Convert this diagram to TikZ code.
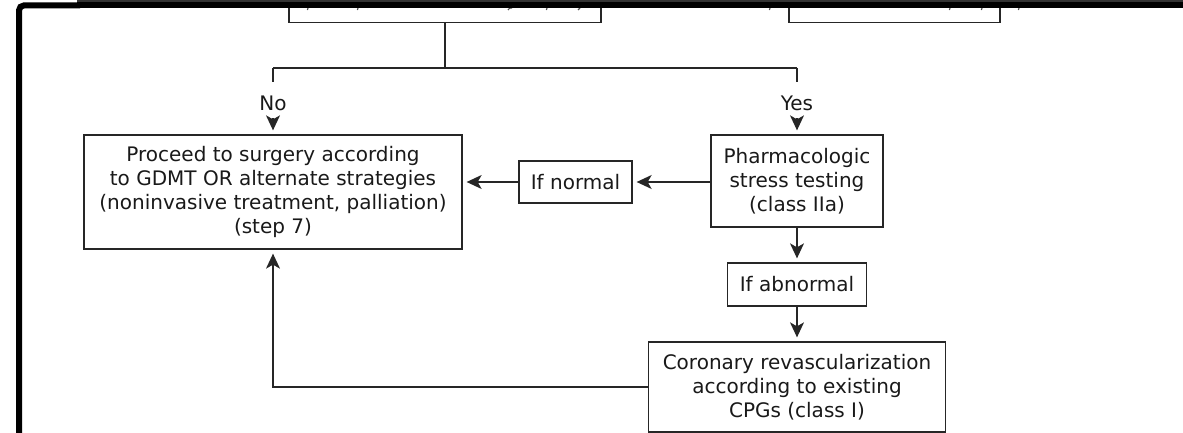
\documentclass[tikz,border=0pt]{standalone}
\usepackage{fontspec}
\setmainfont{DejaVu Sans}
\usetikzlibrary{arrows.meta}
\begin{document}
\begin{tikzpicture}[x=1pt,y=-1pt,
  box/.style={draw=black!85, line width=1.3pt, align=center, inner sep=0pt,
    font=\fontsize{20}{24}\selectfont, text=black!90},
  lbl/.style={inner sep=0pt, minimum height=30pt,
    font=\fontsize{20}{24}\selectfont, text=black!90},
  link/.style={draw=black!85, line width=1.3pt},
  arr/.style={link, -{Stealth[length=15pt,width=14pt,inset=4pt]}, shorten >=4pt}]
\useasboundingbox (0,0) rectangle (1183,433);

% boxes of the previous step, cut by the window edge
\node[box, minimum width=312pt, minimum height=64pt] (topL) at (445,-9.3) {};
\node[box, minimum width=211pt, minimum height=64pt] (topR) at (894.5,-9.3) {};
% descenders of the cut-off lines of text
\foreach \x in {308,358,547,770,950,982,1019}
  \draw[black!70, line width=1.1pt] (\x,8) -- (\x-0.6,10);
\draw[black!70, line width=1.1pt] (512,8) to[bend right=40] (508,10);
\draw[black!70, line width=1.1pt] (580,8) to[bend left=40] (578,10);

% decision split
\coordinate (j)  at (445,68);
\coordinate (jl) at (273,68);
\coordinate (jr) at (797,68);
\node[lbl] (no)  at (273,103) {No};
\node[lbl] (yes) at (797,103) {Yes};

% main steps
\node[box, minimum width=378pt, minimum height=114pt] (proceed) at (273,192)
  {Proceed to surgery according\\to GDMT OR alternate strategies\\(noninvasive treatment, palliation)\\(step 7)};
\node[box, minimum width=172pt, minimum height=92pt] (pharm) at (797,181)
  {Pharmacologic\\stress testing\\(class IIa)};
\node[box, minimum width=113pt, minimum height=42pt] (ifnormal) at (575.5,182) {If normal};
\node[box, minimum width=139pt, minimum height=43pt] (ifabn) at (797,284.5) {If abnormal};
\node[box, minimum width=297pt, minimum height=90pt] (coronary) at (797,387)
  {Coronary revascularization\\according to existing\\CPGs (class I)};

% connectors
\draw[link] (topL.south) -- (j);
\draw[link] (jl) -- (jr);
\draw[link] (jl) -- ([yshift=6pt]no.north);
\draw[link] (jr) -- ([yshift=6pt]yes.north);
\draw[arr] (no.south) -- (proceed.north);
\draw[arr] (yes.south) -- (pharm.north);
\draw[arr] (ifnormal.east -| pharm.west) -- (ifnormal.east);
\draw[arr] (ifnormal.west) -- (ifnormal.west -| proceed.east);
\draw[arr] (pharm.south) -- (ifabn.north);
\draw[arr] (ifabn.south) -- (coronary.north);
\draw[arr] (coronary.west) -| (proceed.south);

% window edge
\fill[black] (77,0) rectangle (1183,8.3);
\fill[black!80] (77,0) rectangle (1183,2.3);
\draw[black, line width=6pt, rounded corners=5pt] (19,440) -- (19,5.4) -- (80,5.4);
\end{tikzpicture}
\end{document}
